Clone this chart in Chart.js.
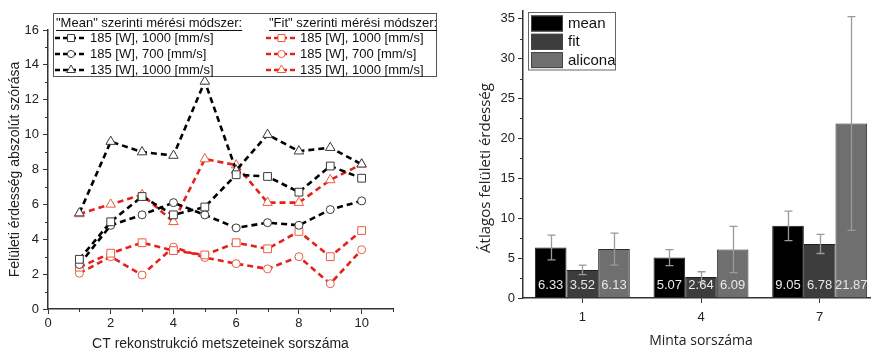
<!DOCTYPE html>
<html>
<head>
<meta charset="utf-8">
<script src="https://cdn.jsdelivr.net/npm/chart.js@4/dist/chart.umd.min.js"></script>
<style>
html,body{margin:0;padding:0;width:871px;height:353px;overflow:hidden;background:#fff;}
#w1{position:absolute;left:0;top:0;width:445px;height:353px;}
#w2{position:absolute;left:455px;top:0;width:430px;height:353px;}
</style>
</head>
<body>
<div id="w1"><canvas id="c1" width="445" height="353"></canvas></div>
<div id="w2"><canvas id="c2" width="430" height="353"></canvas></div>
<script>
// ---------- Left chart data ----------
const slices = [1, 2, 3, 4, 5, 6, 7, 8, 9, 10];
const meanSquare   = [2.85, 5.0, 6.45, 5.4, 5.85, 7.7, 7.6, 6.7, 8.2, 7.5];
const meanCircle   = [2.55, 4.8, 5.4, 6.1, 5.4, 4.65, 4.95, 4.8, 5.7, 6.2];
const meanTriangle = [5.5, 9.6, 9.0, 8.8, 13.05, 7.95, 10.0, 9.05, 9.25, 8.3];
const fitSquare    = [2.4, 3.2, 3.8, 3.35, 3.1, 3.8, 3.45, 4.45, 3.0, 4.5];
const fitCircle    = [2.05, 3.0, 1.95, 3.55, 2.95, 2.6, 2.3, 3.0, 1.45, 3.4];
const fitTriangle  = [5.45, 6.0, 6.55, 5.0, 8.6, 8.25, 6.1, 6.1, 7.4, 8.3];
const leftXTicks = [0, 2, 4, 6, 8, 10];
const leftXMinor = [1, 3, 5, 7, 9, 11];
const leftYTicks = [0, 2, 4, 6, 8, 10, 12, 14, 16];
const leftYMinor = [1, 3, 5, 7, 9, 11, 13, 15];
const seriesLabels = ['185 [W], 1000 [mm/s]', '185 [W], 700 [mm/s]', '135 [W], 1000 [mm/s]'];
const headerMean = '"Mean" szerinti mérési módszer:';
const headerFit = '"Fit" szerinti mérési módszer:';

// ---------- Right chart data ----------
const samples = ['1', '4', '7'];
const meanVals = [6.33, 5.07, 9.05];
const meanErr = [1.55, 1.0, 1.85];
const fitVals = [3.52, 2.64, 6.78];
const fitErr = [0.6, 0.65, 1.2];
const aliconaVals = [6.13, 6.09, 21.87];
const aliconaErr = [2.0, 2.9, 13.4];
const rightYTicks = [0, 5, 10, 15, 20, 25, 30, 35];
const rightYMinor = [2.5, 7.5, 12.5, 17.5, 22.5, 27.5, 32.5];
const barLabels = ['mean', 'fit', 'alicona'];
const rightYTitle = 'Átlagos felületi érdesség';
const rightXTitle = 'Minta sorszáma';

const FONT = "'Liberation Sans', Arial, sans-serif";
const TFONT = "'Open Sans', sans-serif";
const BLACK = '#000000', RED = '#e3231b';
const BLACK_MK = '#3a3a3a', RED_MK = '#ee5b45';
const AXIS = '#333333';

function pts(arr){ return slices.map((x,i)=>({x:x, y:arr[i]})); }

const minorTicks = {
  id: 'minorTicks',
  afterDraw(chart, args, opts) {
    const ctx = chart.ctx;
    ctx.save();
    ctx.strokeStyle = AXIS; ctx.lineWidth = 1;
    const xs = chart.scales.x, ys = chart.scales.y;
    ctx.beginPath();
    (opts.x || []).forEach(v => {
      const px = Math.round(xs.getPixelForValue(v)) + 0.5;
      ctx.moveTo(px, xs.top); ctx.lineTo(px, xs.top + 3);
    });
    (opts.y || []).forEach(v => {
      const py = Math.round(ys.getPixelForValue(v)) + 0.5;
      ctx.moveTo(ys.right, py); ctx.lineTo(ys.right - 3, py);
    });
    ctx.stroke();
    ctx.restore();
  }
};

function sample(ctx, x1, x2, y, color, mk, style, r) {
  ctx.save();
  ctx.strokeStyle = color; ctx.lineWidth = 2.5; ctx.setLineDash([5, 3]);
  ctx.beginPath(); ctx.moveTo(x1, y); ctx.lineTo(x2, y); ctx.stroke();
  ctx.setLineDash([]);
  ctx.fillStyle = '#fff'; ctx.strokeStyle = mk; ctx.lineWidth = 1;
  Chart.helpers.drawPoint(ctx, {pointStyle: style, radius: r, borderWidth: 1, rotation: 0}, (x1 + x2) / 2, y);
  ctx.restore();
}

const leftLegend = {
  id: 'leftLegend',
  afterDraw(chart) {
    const ctx = chart.ctx;
    ctx.save();
    ctx.fillStyle = '#fff';
    ctx.fillRect(53.5, 13.5, 383, 63);
    ctx.strokeStyle = '#555'; ctx.lineWidth = 1;
    ctx.strokeRect(53.5, 13.5, 383, 63);
    ctx.font = '13px ' + FONT;
    ctx.textBaseline = 'middle';
    ctx.fillStyle = '#111';
    const cols = [
      {hx: 56, sx1: 55, sx2: 87, tx: 90, header: headerMean, color: BLACK, mk: BLACK_MK},
      {hx: 269, sx1: 266, sx2: 297, tx: 300, header: headerFit, color: RED, mk: RED_MK}
    ];
    const styles = [['rect', 5], ['circle', 3.6], ['triangle', 5]];
    const rows = [38, 54, 70];
    cols.forEach(c => {
      ctx.fillStyle = '#111';
      ctx.fillText(c.header, c.hx, 23);
      const w = ctx.measureText(c.header).width;
      ctx.beginPath(); ctx.strokeStyle = '#111'; ctx.lineWidth = 1;
      ctx.moveTo(c.hx, 30.5); ctx.lineTo(c.hx + w, 30.5); ctx.stroke();
      rows.forEach((y, i) => {
        sample(ctx, c.sx1, c.sx2, y, c.color, c.mk, styles[i][0], styles[i][1]);
        ctx.fillStyle = '#111';
        ctx.fillText(seriesLabels[i], c.tx, y);
      });
    });
    ctx.restore();
  }
};

function lineDs(label, arr, color, mk, style, r) {
  return {
    label: label, data: pts(arr), borderColor: color, borderWidth: 2.6, borderDash: [6, 4],
    pointStyle: style, pointRadius: r, pointBackgroundColor: '#fff', pointBorderColor: mk,
    pointBorderWidth: 1, fill: false, tension: 0
  };
}

new Chart(document.getElementById('c1'), {
  type: 'line',
  data: {
    datasets: [
      lineDs('mean ' + seriesLabels[0], meanSquare, BLACK, BLACK_MK, 'rect', 5.5),
      lineDs('mean ' + seriesLabels[1], meanCircle, BLACK, BLACK_MK, 'circle', 4),
      lineDs('mean ' + seriesLabels[2], meanTriangle, BLACK, BLACK_MK, 'triangle', 5.5),
      lineDs('fit ' + seriesLabels[0], fitSquare, RED, RED_MK, 'rect', 5.5),
      lineDs('fit ' + seriesLabels[1], fitCircle, RED, RED_MK, 'circle', 4),
      lineDs('fit ' + seriesLabels[2], fitTriangle, RED, RED_MK, 'triangle', 5.5)
    ]
  },
  options: {
    responsive: false, animation: false,
    layout: {padding: {top: 30, right: 52, left: 0, bottom: 0}},
    plugins: {legend: {display: false}, tooltip: {enabled: false},
      minorTicks: {x: leftXMinor, y: leftYMinor}},
    scales: {
      x: {
        type: 'linear', min: 0, max: 11,
        afterBuildTicks: s => { s.ticks = leftXTicks.map(v => ({value: v})); },
        afterFit: s => { s.height = 44; },
        grid: {drawOnChartArea: false, drawTicks: true, tickLength: 5, tickColor: AXIS, tickWidth: 1},
        border: {display: true, color: AXIS, width: 1.5},
        ticks: {font: {family: FONT, size: 13}, color: '#222', padding: 2, maxRotation: 0},
        title: {display: true, text: 'CT rekonstrukció metszeteinek sorszáma', font: {family: FONT, size: 14}, color: '#222', padding: {top: 0, bottom: 0}}
      },
      y: {
        type: 'linear', min: 0, max: 16,
        afterBuildTicks: s => { s.ticks = leftYTicks.map(v => ({value: v})); },
        afterFit: s => { s.width = 48; },
        grid: {drawOnChartArea: false, drawTicks: true, tickLength: 5, tickColor: AXIS, tickWidth: 1},
        border: {display: true, color: AXIS, width: 1.5},
        ticks: {font: {family: FONT, size: 13}, color: '#222', padding: 4},
        title: {display: true, text: 'Felületi érdesség abszolút szórása', font: {family: FONT, size: 14}, color: '#222', padding: {top: 7, bottom: 0}}
      }
    }
  },
  plugins: [minorTicks, leftLegend]
});

// ---------- Right chart ----------
const errValues = [meanErr, fitErr, aliconaErr];
const barExtras = {
  id: 'barExtras',
  afterDatasetsDraw(chart) {
    const ctx = chart.ctx, ys = chart.scales.y;
    ctx.save();
    chart.data.datasets.forEach((ds, di) => {
      const meta = chart.getDatasetMeta(di);
      meta.data.forEach((el, j) => {
        const v = ds.data[j], e = errValues[di][j];
        const x = Math.round(el.x) + 0.5;
        const yt = ys.getPixelForValue(v + e), yb = ys.getPixelForValue(v - e);
        ctx.strokeStyle = '#9a9a9a'; ctx.lineWidth = 1.3;
        ctx.beginPath();
        ctx.moveTo(x, yt); ctx.lineTo(x, yb);
        ctx.moveTo(x - 4, yt); ctx.lineTo(x + 4, yt);
        ctx.moveTo(x - 4, yb); ctx.lineTo(x + 4, yb);
        ctx.stroke();
      });
    });
    ctx.font = '13px ' + FONT;
    ctx.textAlign = 'center'; ctx.textBaseline = 'middle';
    ctx.fillStyle = '#e8e8e8';
    chart.data.datasets.forEach((ds, di) => {
      const meta = chart.getDatasetMeta(di);
      meta.data.forEach((el, j) => {
        ctx.fillText(ds.data[j].toFixed(2), el.x, ys.getPixelForValue(0) - 13);
      });
    });
    ctx.restore();
  },
  afterDraw(chart) {
    const ctx = chart.ctx;
    ctx.save();
    // y-axis title
    ctx.translate(31, 168);
    ctx.rotate(-Math.PI / 2);
    ctx.font = '15px ' + TFONT; ctx.fillStyle = '#222';
    ctx.textAlign = 'center'; ctx.textBaseline = 'middle';
    ctx.fillText(rightYTitle, 0, 0);
    ctx.restore();
    ctx.save();
    const L = 528 - 455;
    ctx.fillStyle = '#fff';
    ctx.fillRect(L + 0.5, 12.5, 87, 57.5);
    ctx.strokeStyle = '#666'; ctx.lineWidth = 1;
    ctx.strokeRect(L + 0.5, 12.5, 87, 57.5);
    ctx.font = '15px ' + FONT; ctx.textBaseline = 'middle'; ctx.fillStyle = '#111';
    chart.data.datasets.forEach((ds, i) => {
      const y = 15.5 + i * 18.3;
      ctx.fillStyle = ds.backgroundColor;
      ctx.fillRect(L + 3, y, 32, 16);
      ctx.strokeStyle = '#444';
      ctx.strokeRect(L + 3.5, y + 0.5, 31, 15);
      ctx.fillStyle = '#111';
      ctx.fillText(ds.label, L + 40, y + 8.5);
    });
    ctx.restore();
  }
};

new Chart(document.getElementById('c2'), {
  type: 'bar',
  data: {
    labels: samples,
    datasets: [
      {label: barLabels[0], data: meanVals, backgroundColor: '#000000', borderColor: '#1e1e1e', borderWidth: 1},
      {label: barLabels[1], data: fitVals, backgroundColor: '#3d3d3d', borderColor: '#1e1e1e', borderWidth: 1},
      {label: barLabels[2], data: aliconaVals, backgroundColor: '#6f6f6f', borderColor: '#2a2a2a', borderWidth: 1}
    ]
  },
  options: {
    responsive: false, animation: false,
    layout: {padding: {top: 10, right: 6, left: 0, bottom: 0}},
    datasets: {bar: {categoryPercentage: 0.8, barPercentage: 1.0}},
    plugins: {legend: {display: false}, tooltip: {enabled: false},
      minorTicks: {x: [], y: rightYMinor}},
    scales: {
      x: {
        type: 'category', offset: true,
        afterFit: s => { s.height = 55; },
        grid: {offset: false, drawOnChartArea: false, drawTicks: true, tickLength: 5, tickColor: AXIS, tickWidth: 1},
        border: {display: true, color: AXIS, width: 1.5},
        ticks: {font: {family: FONT, size: 13}, color: '#222', padding: 7, maxRotation: 0},
        title: {display: true, text: rightXTitle, font: {family: TFONT, size: 14}, color: '#222', padding: {top: 0, bottom: 4}}
      },
      y: {
        type: 'linear', min: 0, max: 36,
        afterBuildTicks: s => { s.ticks = rightYTicks.map(v => ({value: v})); },
        afterFit: s => { s.width = 68; },
        grid: {drawOnChartArea: false, drawTicks: true, tickLength: 5, tickColor: AXIS, tickWidth: 1},
        border: {display: true, color: AXIS, width: 1.5},
        ticks: {font: {family: FONT, size: 13}, color: '#222', padding: 3},
        title: {display: false}
      }
    }
  },
  plugins: [minorTicks, barExtras]
});
</script>
</body>
</html>
